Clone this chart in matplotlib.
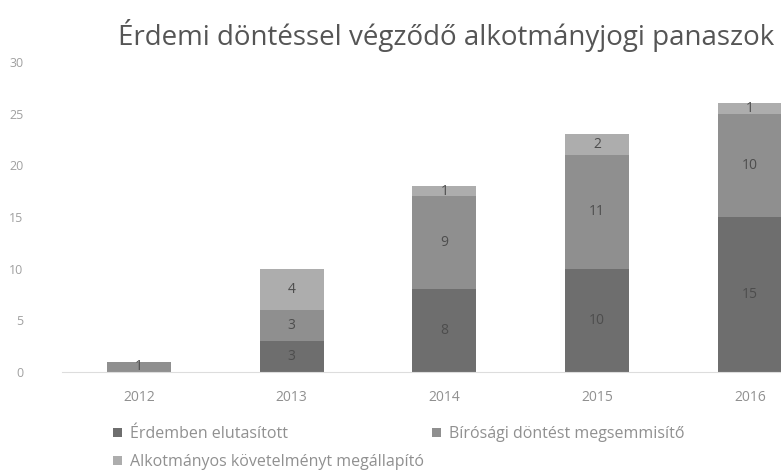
import matplotlib.pyplot as plt
import numpy as np

# adatok
years = ['2012', '2013', '2014', '2015', '2016']
erdemben = [0, 3, 8, 10, 15]
birosagi = [1, 3, 9, 11, 10]
alkotmanyos = [0, 4, 1, 2, 1]
labels = ['Érdemben elutasított', 'Bírósági döntést megsemmisítő',
          'Alkotmányos követelményt megállapító']
colors = ['#6e6e6e', '#8f8f8f', '#adadad']

plt.rcParams['font.family'] = ['Open Sans', 'DejaVu Sans']

fig = plt.figure(figsize=(7.81, 4.71), dpi=100)
ax = fig.add_axes([0.08, 0.21, 0.978, 0.658])

x = np.arange(len(years))
bottom = np.zeros(len(years))
bars = []
for vals, col in zip([erdemben, birosagi, alkotmanyos], colors):
    b = ax.bar(x, vals, 0.42, bottom=bottom, color=col)
    bars.append(b)
    # csak a nem nulla szeletek kapnak feliratot
    for xi, v, bt in zip(x, vals, bottom):
        if v > 0:
            ax.text(xi, bt + v / 2, str(v), ha='center', va='center',
                    fontsize=10, color='#4d4d4d')
    bottom += np.array(vals)

ax.set_xlim(-0.5, 4.5)
ax.set_ylim(0, 30)
ax.set_yticks(range(0, 31, 5))
ax.set_xticks(x)
ax.set_xticklabels(years)
ax.tick_params(axis='y', length=0, pad=28, labelsize=9, labelcolor='#a0a0a0')
ax.tick_params(axis='x', length=0, pad=13, labelsize=10, labelcolor='#909090')
for s in ['top', 'right', 'left']:
    ax.spines[s].set_visible(False)
ax.spines['bottom'].set_color('#dddddd')

fig.text(0.151, 0.925, 'Érdemi döntéssel végződő alkotmányjogi panaszok',
         fontsize=20, color='#555555', va='center')

h = [bars[0], bars[2], bars[1]]
l = [labels[0], labels[2], labels[1]]
fig.legend(h, l, loc='upper left', bbox_to_anchor=(0.145, 0.095), ncol=2,
           frameon=False, fontsize=11.5, labelcolor='#909090',
           handlelength=0.55, handleheight=0.55, handletextpad=0.5,
           columnspacing=0.5, labelspacing=0.75, borderaxespad=0,
           borderpad=0)

plt.savefig('out.png', dpi=100)
